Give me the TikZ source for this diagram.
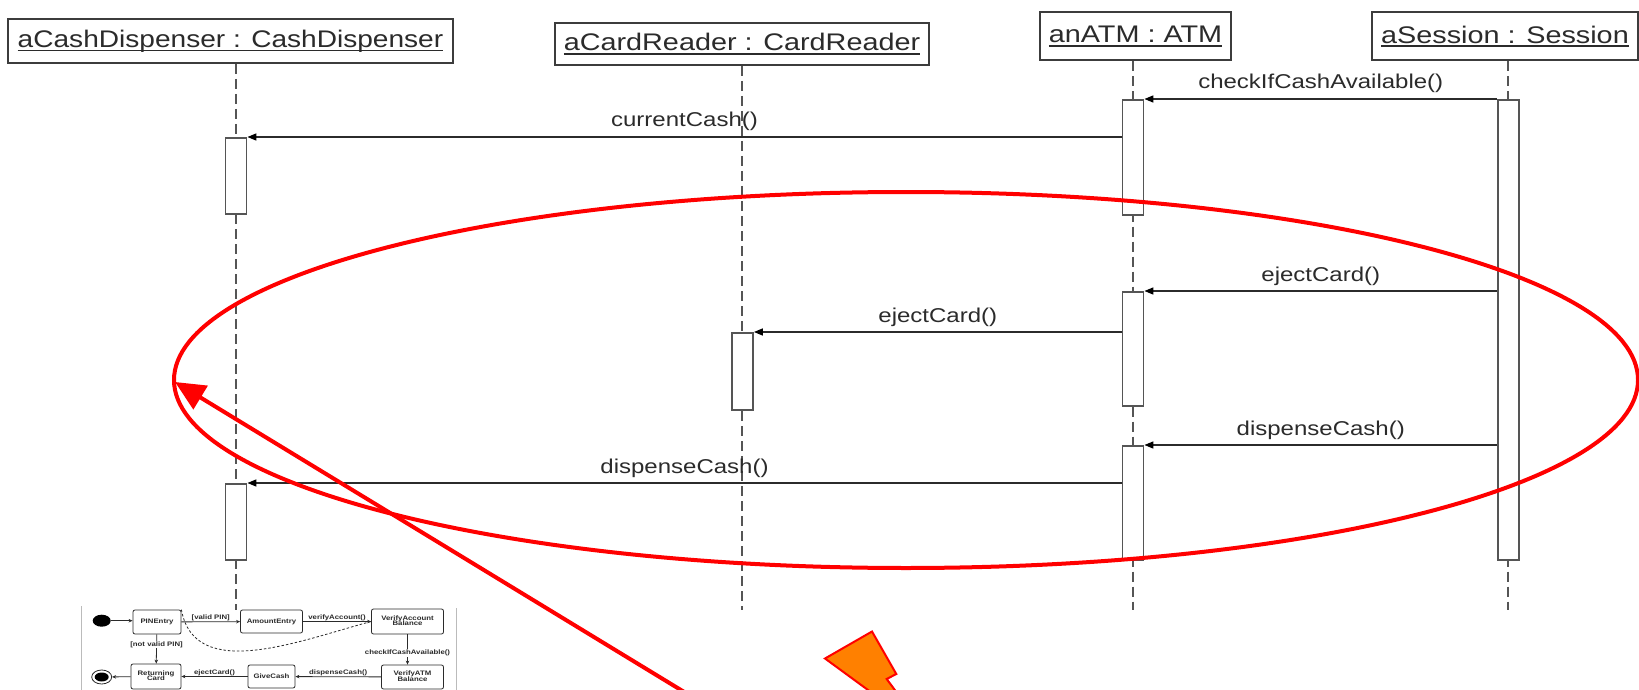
\documentclass[tikz,border=0pt]{standalone}
\usepackage{fontspec}
\setmainfont{Liberation Sans}
\usepackage{graphicx}
\usetikzlibrary{arrows.meta,shapes.geometric}

\definecolor{ink}{HTML}{2B2B2B}
\definecolor{frame}{HTML}{3C3C3C}
\definecolor{life}{HTML}{555555}
\definecolor{boltorange}{HTML}{FF8000}
\definecolor{thumbedge}{HTML}{BBBBBB}

% underlined object name, with a rule just under the descenders
\newcommand{\ulbox}[1]{\setbox0=\hbox{#1}\rlap{\rule[-4pt]{\wd0}{1.7pt}}\box0}
\newcommand{\hdrtext}[2][1.2]{\scalebox{#1}[1]{\fontsize{24}{28}\selectfont\ulbox{#2}}}
\newcommand{\msgtext}[1]{\scalebox{1.2}[1]{\fontsize{20}{24}\selectfont #1}}
\newcommand{\thumbtext}[1]{\scalebox{1.2}[1]{\fontsize{6.5}{7}\selectfont\bfseries #1}}
\newcommand{\thumbtwo}[2]{\scalebox{1.2}[1]{\fontsize{6.5}{7}\selectfont\bfseries
  \begin{tabular}{@{}c@{}}#1\\[-1.5pt]#2\end{tabular}}}

\begin{document}
\begin{tikzpicture}[x=1pt, y=-1pt,
  hdrbox/.style={draw=frame, line width=2pt, fill=white, text=ink,
    inner xsep=9pt, inner ysep=0pt},
  act/.style={draw=life, line width=1.8pt, fill=white, minimum width=21pt,
    inner sep=0pt, anchor=north},
  lifeline/.style={draw=life, line width=2pt, dash pattern=on 10pt off 5pt},
  msg/.style={draw=ink, line width=1.5pt,
    -{Triangle[length=9pt, width=7pt, color=black]}},
  lbl/.style={midway, anchor=base, yshift=10pt, text=ink, inner sep=0pt},
  thumbstate/.style={draw=ink, line width=0.8pt, rounded corners=2pt,
    fill=white, inner sep=0pt, text=ink},
  tarrow/.style={draw=ink, line width=0.8pt,
    -{Stealth[length=4pt, width=3.5pt]}},
  tlbl/.style={midway, anchor=base, yshift=2.5pt, inner sep=0pt, text=ink},
  tlblon/.style={midway, fill=white, inner sep=0.8pt, text=ink},
  redmark/.style={draw=red, line width=4pt},
]
\useasboundingbox (0,0) rectangle (1639,690);
\fill[white] (0,0) rectangle (1639,690);
\clip (0,0) rectangle (1639,690);

% ---------- object headers ----------
\node[hdrbox, inner xsep=10pt, minimum height=44pt] (cashHdr) at (230.5,41)
  {\hdrtext[1.17]{aCashDispenser : CashDispenser}};
\node[hdrbox, minimum height=42pt] (cardHdr) at (742,44)
  {\hdrtext{aCardReader : CardReader}};
\node[hdrbox, minimum height=48pt, minimum width=191pt] (atmHdr) at (1135.5,36.5)
  {\hdrtext{anATM : ATM}};
\node[hdrbox, minimum height=48pt, minimum width=265pt] (sessHdr) at (1505,36.5)
  {\hdrtext{aSession : Session}};

% ---------- lifelines ----------
\coordinate (cashEnd) at (236,610);
\coordinate (cardEnd) at (742,610);
\coordinate (atmEnd)  at (1133,610);
\coordinate (sessEnd) at (1508,610);
\draw[lifeline] (cashHdr.south -| cashEnd) -- (cashEnd);
\draw[lifeline] (cardHdr.south -| cardEnd) -- (cardEnd);
\draw[lifeline] (atmHdr.south -| atmEnd) -- (atmEnd);
\draw[lifeline] (sessHdr.south -| sessEnd) -- (sessEnd);

% ---------- activation bars ----------
\node[act, minimum height=460pt] (sess)  at (1508.5,99) {};
\node[act, minimum height=115pt] (atm1)  at (1133,99)   {};
\node[act, minimum height=76pt]  (cash1) at (236,137)   {};
\node[act, minimum height=114pt] (atm2)  at (1133,291)  {};
\node[act, minimum height=77pt]  (card1) at (742.5,332) {};
\node[act, minimum height=114pt] (atm3)  at (1133,445)  {};
\node[act, minimum height=76pt]  (cash2) at (236,483)   {};

% ---------- messages ----------
\draw[msg] (sess.north west) -- node[lbl]{\msgtext{checkIfCashAvailable()}} (atm1.north east);
\draw[msg] (atm1.west |- cash1.north) -- node[lbl]{\msgtext{currentCash()}} (cash1.north east);
\draw[msg] (sess.west |- atm2.north) -- node[lbl]{\msgtext{ejectCard()}} (atm2.north east);
\draw[msg] (atm2.west |- card1.north) -- node[lbl]{\msgtext{ejectCard()}} (card1.north east);
\draw[msg] (sess.west |- atm3.north) -- node[lbl]{\msgtext{dispenseCash()}} (atm3.north east);
\draw[msg] (atm3.west |- cash2.north) -- node[lbl]{\msgtext{dispenseCash()}} (cash2.north east);

% ---------- small state chart ----------
\draw[thumbedge, line width=1pt] (81,606) -- (81,690);
\draw[thumbedge, line width=1pt] (456,608) -- (456,690);

\node[ellipse, fill=black, minimum width=18pt, minimum height=12pt, inner sep=0pt] (init) at (101.7,620.7) {};
\node[ellipse, draw=ink, line width=0.8pt, minimum width=20pt, minimum height=14pt, inner sep=0pt] (fin) at (101.7,677) {};
\node[ellipse, fill=black, minimum width=14pt, minimum height=9pt, inner sep=0pt] (finDot) at (fin) {};

\node[thumbstate, minimum width=48pt, minimum height=24pt] (pin)  at (157,622)   {\thumbtext{PINEntry}};
\node[thumbstate, minimum width=62pt, minimum height=23pt] (amt)  at (271.5,621.5) {\thumbtext{AmountEntry}};
\node[thumbstate, minimum width=72pt, minimum height=25pt] (vab)  at (407.5,621.5) {\thumbtwo{VerifyAccount}{Balance}};
\node[thumbstate, minimum width=50pt, minimum height=25pt] (ret)  at (156,676.5) {\thumbtwo{Returning}{Card}};
\node[thumbstate, minimum width=47pt, minimum height=23pt] (give) at (271.5,676.5) {\thumbtext{GiveCash}};
\node[thumbstate, minimum width=62pt, minimum height=24pt] (vatm) at (412.5,677) {\thumbtwo{VerifyATM}{Balance}};

\draw[tarrow] (init.east) -- (init.east -| pin.west);
\draw[tarrow] (pin) -- node[tlbl]{\thumbtext{[valid PIN]}} (amt);
\draw[tarrow] (amt) -- node[tlbl]{\thumbtext{verifyAccount()}} (vab);
\draw[draw=ink, line width=0.8pt, dash pattern=on 2.5pt off 2pt]
  (pin.north east) to[out=-80, in=-165] (vab.west);
\draw[tarrow] (pin) -- node[tlblon, pos=0.35]{\thumbtext{[not valid PIN]}} (ret);
\draw[tarrow] (vab.south) -- node[tlblon, pos=0.62]{\thumbtext{checkIfCashAvailable()}} (vab.south |- vatm.north);
\draw[tarrow] (vatm) -- node[tlbl]{\thumbtext{dispenseCash()}} (give);
\draw[tarrow] (give) -- node[tlbl]{\thumbtext{ejectCard()}} (ret);
\draw[tarrow] (ret) -- (fin);

% ---------- red highlight ----------
\draw[redmark] (906,380) ellipse [x radius=732pt, y radius=188pt];
\coordinate (ptrFrom) at (699,701);
\coordinate (ptrTo) at (175,382);
\draw[redmark, -{Triangle[length=30pt, width=27pt]}] (ptrFrom) -- (ptrTo);

% ---------- orange bolt ----------
\filldraw[fill=boltorange, draw=red, line width=2pt, line join=miter]
  (825,658.5) -- (872,631.5) -- (896.3,674) -- (886.7,679) -- (903,701) -- (883,701) -- cycle;
\end{tikzpicture}
\end{document}
